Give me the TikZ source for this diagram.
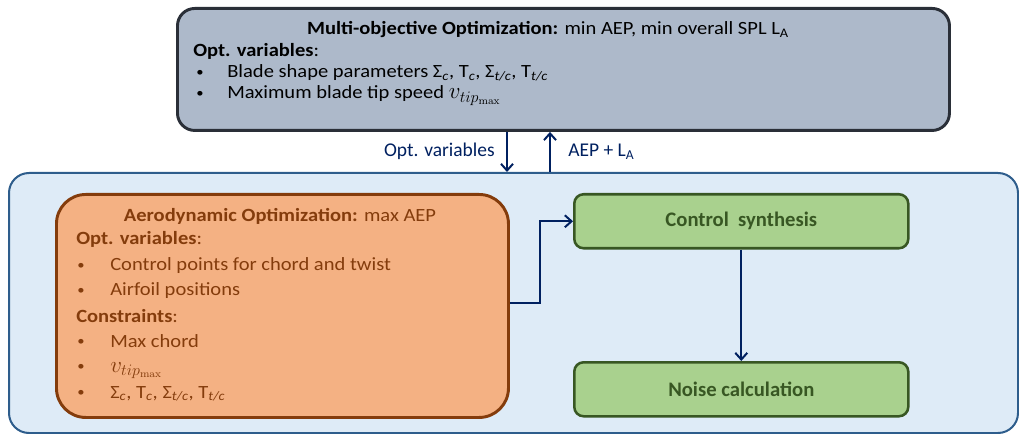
\documentclass[tikz,border=0pt]{standalone}
\usepackage[no-math]{fontspec}
\setmainfont{Carlito}[FakeStretch=1.1]
\newfontfamily\plainfont{Carlito}
\usepackage{amsmath}
\usetikzlibrary{positioning,arrows.meta,calc}
\definecolor{topfill}{HTML}{ADB9CA}
\definecolor{topline}{HTML}{2A2F38}
\definecolor{loopfill}{HTML}{DEEBF7}
\definecolor{loopline}{HTML}{2E5D8C}
\definecolor{aerofill}{HTML}{F4B183}
\definecolor{aeroline}{HTML}{843C0C}
\definecolor{greenfill}{HTML}{A9D18E}
\definecolor{greenline}{HTML}{385723}
\definecolor{navy}{HTML}{002060}
\newcommand{\bul}{\raisebox{1.2pt}{\fontsize{10}{12}\selectfont •}}
\newcommand{\vtip}{{\fontsize{17}{20}\selectfont$v_{tip_{\max}}$}}

\begin{document}
\begin{tikzpicture}[
    x=0.75pt, y=-0.75pt,
    font=\fontsize{14}{17}\selectfont,
    %
    box/.style={draw, rectangle, anchor=north west, inner sep=0pt},
    multi/.style={box, draw=topline, fill=topfill, line width=2.2pt, rounded corners=13pt,
                  minimum width=579pt, minimum height=91.5pt},
    loopbox/.style={box, draw=loopline, fill=loopfill, line width=1.5pt, rounded corners=15pt,
                  minimum width=756.75pt, minimum height=195pt},
    aero/.style={box, draw=aeroline, fill=aerofill, line width=2.2pt, rounded corners=22pt,
                  minimum width=339pt, minimum height=167.25pt},
    module/.style={box, draw=greenline, fill=greenfill, line width=1.9pt, rounded corners=7pt,
                  minimum width=250.5pt, minimum height=40.5pt,
                  text=greenline, font=\fontsize{15.5}{18}\plainfont\bfseries},
    toptxt/.style={anchor=base west, inner sep=0pt},
    aerotxt/.style={anchor=base west, inner sep=0pt, text=aeroline},
    lbl/.style={inner sep=0pt, text=navy, font=\fontsize{14.6}{17}\plainfont},
    %
    flow/.style={draw=navy, line width=1.5pt, -{Straight Barb[length=5pt,width=9pt]}}
    ]

    \useasboundingbox (0,0) rectangle (1019,434);

    % outer loop and the top optimizer
    \node[loopbox] (loop) at (8,172) {};
    \node[multi] (multi) at (176,7) {};

    \node[toptxt, anchor=base] (multititle) at (548,35)
        {\textbf{Multi-objective Optimization:} min AEP, min overall SPL L\textsubscript{A}};
    \node[toptxt] (multivar) at (193,57) {\textbf{Opt. variables}:};
    \node[toptxt] (bulla) at (196,78) {\bul};
    \node[toptxt] (shape) at (227,78)
        {Blade shape parameters Σ\textsubscript{\itshape c}, T\textsubscript{\itshape c}, Σ\textsubscript{\itshape t/c}, T\textsubscript{\itshape t/c}};
    \node[toptxt] (bullb) at (196,99) {\bul};
    \node[toptxt] (speed) at (227,99) {Maximum blade tip speed \vtip};

    % aerodynamic optimizer
    \node[aero] (aero) at (55,193) {};
    \node[aerotxt, anchor=base] (aerotitle) at (280,222) {\textbf{Aerodynamic Optimization:} max AEP};
    \node[aerotxt] (aerovar) at (76,245) {\textbf{Opt. variables}:};
    \node[aerotxt] (bullc) at (77,271) {\bul};
    \node[aerotxt] (ctrlpts) at (110,271) {Control points for chord and twist};
    \node[aerotxt] (bulld) at (77,296) {\bul};
    \node[aerotxt] (airfoil) at (110,296) {Airfoil positions};
    \node[aerotxt] (constr) at (76,322) {\textbf{Constraints}:};
    \node[aerotxt] (bulle) at (77,347) {\bul};
    \node[aerotxt] (maxchord) at (110,347) {Max chord};
    \node[aerotxt] (bullf) at (77,372) {\bul};
    \node[aerotxt] (vtip) at (110,372) {\vtip};
    \node[aerotxt] (bullg) at (77,398) {\bul};
    \node[aerotxt] (params) at (110,398)
        {Σ\textsubscript{\itshape c}, T\textsubscript{\itshape c}, Σ\textsubscript{\itshape t/c}, T\textsubscript{\itshape t/c}};

    % control and noise
    \node[module] (control) at (573,193) {Control\ \ synthesis};
    \node[module] (noise) at (573,361) {Noise calculation};

    % connections
    \coordinate (down) at (507,0);
    \coordinate (up) at (550,0);
    \coordinate (kink) at (540,303);
    \draw[flow] (down |- multi.south) -- (down |- loop.north);
    \draw[flow] (up |- loop.north) -- (up |- multi.south);
    \node[lbl, anchor=base east] (varlbl) at (495,157) {Opt. variables};
    \node[lbl, anchor=base west] (aeplbl) at (568,157) {AEP + L\textsubscript{A}};
    \draw[flow] (kink -| aero.east) -- (kink) |- (control.west);
    \draw[flow] (control.south) -- (noise.north);
    %
\end{tikzpicture}
\end{document}
